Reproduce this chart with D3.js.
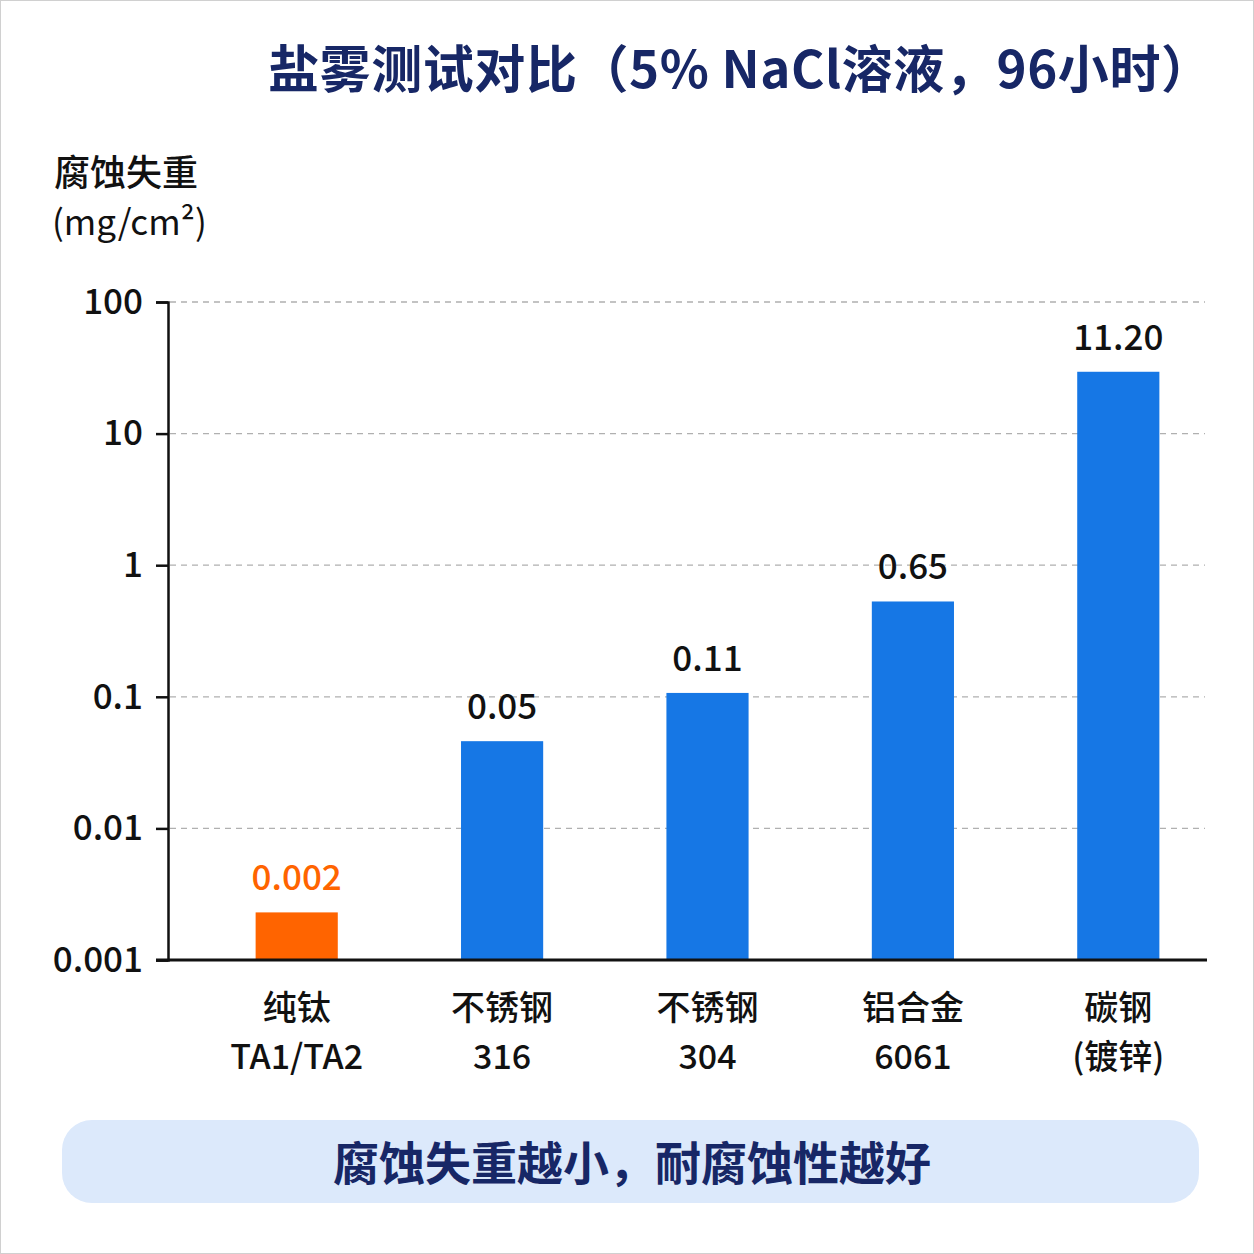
<!DOCTYPE html>
<html>
<head>
<meta charset="utf-8">
<script src="https://cdn.jsdelivr.net/npm/d3@7"></script>
<style>
  body { margin: 0; background: #fff; }
  svg text { font-family: "Noto Sans CJK SC", "Noto Sans", sans-serif; }
</style>
</head>
<body>
<svg id="chart"></svg>
<script>
// chart data
var materials = ['纯钛', '不锈钢', '不锈钢', '铝合金', '碳钢'];
var grades = ['TA1/TA2', '316', '304', '6061', '(镀锌)'];
var lossLabels = ['0.002', '0.05', '0.11', '0.65', '11.20'];
// bar heights as drawn in the picture (log axis)
var barValues = [0.0023, 0.046, 0.107, 0.53, 29.5];
var yTicks = [0.001, 0.01, 0.1, 1, 10, 100];
var yTickLabels = ['0.001', '0.01', '0.1', '1', '10', '100'];

var W = 1254, H = 1254;
var blue = '#1677e5', orange = '#ff6400', navy = '#172766';

var svg = d3.select('#chart')
  .attr('width', W)
  .attr('height', H);

// frame
svg.append('rect')
  .attr('x', 0.5).attr('y', 0.5)
  .attr('width', W - 1).attr('height', H - 1)
  .attr('fill', '#fff')
  .attr('stroke', '#d0d0d0');

// scales
var x = d3.scaleBand()
  .domain(d3.range(materials.length))
  .range([194, 1221])
  .paddingInner(0.6)
  .paddingOuter(0.3);
var y = d3.scaleLog()
  .domain([0.001, 100])
  .range([960, 302]);

// title
svg.append('text')
  .attr('x', 268)
  .attr('y', 88)
  .attr('font-size', 51)
  .attr('font-weight', 'bold')
  .attr('fill', navy)
  .attr('textLength', 944)
  .text('盐雾测试对比（5% NaCl溶液，96小时）');

// y axis title
svg.append('text')
  .attr('x', 54)
  .attr('y', 186)
  .attr('font-size', 36)
  .attr('font-weight', 500)
  .attr('fill', '#111')
  .text('腐蚀失重');
svg.append('text')
  .attr('x', 52)
  .attr('y', 235)
  .attr('font-size', 35)
  .attr('fill', '#111')
  .text('(mg/cm²)');

// gridlines
svg.append('g')
  .selectAll('line')
  .data(yTicks.slice(1))
  .enter()
  .append('line')
    .attr('x1', 170)
    .attr('x2', 1205)
    .attr('y1', function(d) { return y(d); })
    .attr('y2', function(d) { return y(d); })
    .attr('stroke', '#b0b0b0')
    .attr('stroke-width', 1.3)
    .attr('stroke-dasharray', '6,5');

// y axis
var yAxis = svg.append('g')
  .attr('transform', 'translate(168,0)')
  .call(
    d3.axisLeft(y)
      .tickValues(yTicks)
      .tickFormat(function(d, i) { return yTickLabels[i]; })
      .tickSize(12)
      .tickPadding(13)
  );
yAxis.select('.domain').attr('stroke', '#111').attr('stroke-width', 2.5);
yAxis.selectAll('.tick line').attr('stroke', '#111').attr('stroke-width', 2.5);
yAxis.selectAll('.tick text')
  .attr('font-size', 35)
  .attr('font-weight', 500)
  .attr('fill', '#111')
  .style('font-family', '"Noto Sans CJK SC", sans-serif');

// bars
svg.append('g')
  .selectAll('rect')
  .data(barValues)
  .enter()
  .append('rect')
    .attr('x', function(d, i) { return x(i); })
    .attr('y', function(d) { return y(d); })
    .attr('width', x.bandwidth())
    .attr('height', function(d) { return 960 - y(d); })
    .attr('fill', function(d, i) { return i === 0 ? orange : blue; });

// value labels
svg.append('g')
  .selectAll('text')
  .data(barValues)
  .enter()
  .append('text')
    .attr('x', function(d, i) { return x(i) + x.bandwidth() / 2; })
    .attr('y', function(d) { return y(d) - 22; })
    .attr('text-anchor', 'middle')
    .attr('font-size', 35)
    .attr('font-weight', 500)
    .attr('fill', function(d, i) { return i === 0 ? orange : '#111'; })
    .text(function(d, i) { return lossLabels[i]; });

// x axis baseline
svg.append('line')
  .attr('x1', 156).attr('x2', 1207)
  .attr('y1', 960).attr('y2', 960)
  .attr('stroke', '#111')
  .attr('stroke-width', 3);

// category labels
var cats = svg.append('g')
  .selectAll('g')
  .data(materials)
  .enter()
  .append('g')
    .attr('transform', function(d, i) {
      return 'translate(' + (x(i) + x.bandwidth() / 2) + ',0)';
    });
cats.append('text')
  .attr('y', 1020)
  .attr('text-anchor', 'middle')
  .attr('font-size', 34)
  .attr('font-weight', 500)
  .attr('fill', '#111')
  .text(function(d) { return d; });
cats.append('text')
  .attr('y', 1069)
  .attr('text-anchor', 'middle')
  .attr('font-size', 34)
  .attr('font-weight', 500)
  .attr('fill', '#111')
  .text(function(d, i) { return grades[i]; });

// bottom note
svg.append('rect')
  .attr('x', 62).attr('y', 1120)
  .attr('width', 1137).attr('height', 83)
  .attr('rx', 30)
  .attr('fill', '#dce9fb');
svg.append('text')
  .attr('x', 632)
  .attr('y', 1180)
  .attr('text-anchor', 'middle')
  .attr('font-size', 46)
  .attr('font-weight', 'bold')
  .attr('fill', navy)
  .text('腐蚀失重越小，耐腐蚀性越好');
</script>
</body>
</html>
